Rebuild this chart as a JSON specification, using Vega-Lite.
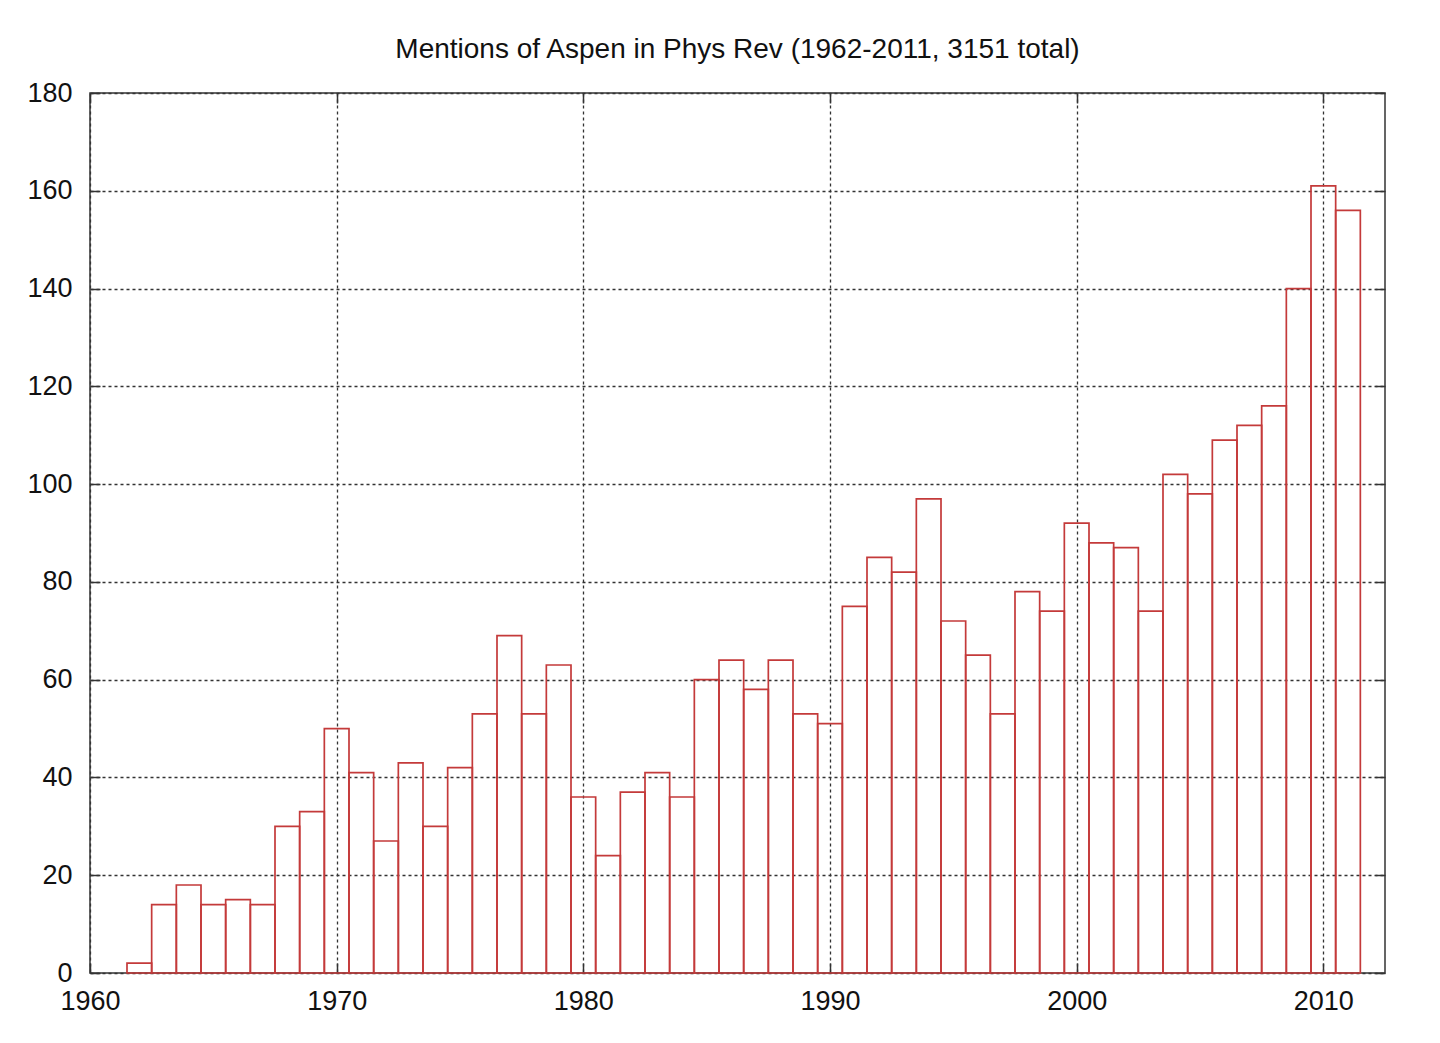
{
  "$schema": "https://vega.github.io/schema/vega-lite/v6.json",
  "width": 1295,
  "height": 880,
  "autosize": {"type": "none"},
  "padding": {"left": 90, "top": 93, "right": 55, "bottom": 70},
  "background": "white",
  "config": {
    "view": {"stroke": "#333333", "strokeWidth": 1.5},
    "font": "Liberation Sans"
  },
  "title": {
    "text": "Mentions of Aspen in Phys Rev (1962-2011, 3151 total)",
    "font": "Liberation Sans",
    "fontSize": 28,
    "fontWeight": "normal",
    "color": "#111111",
    "anchor": "middle",
    "offset": 15
  },
  "data": {
    "values": [
      {"year": 1962, "count": 2}, {"year": 1963, "count": 14}, {"year": 1964, "count": 18},
      {"year": 1965, "count": 14}, {"year": 1966, "count": 15}, {"year": 1967, "count": 14},
      {"year": 1968, "count": 30}, {"year": 1969, "count": 33}, {"year": 1970, "count": 50},
      {"year": 1971, "count": 41}, {"year": 1972, "count": 27}, {"year": 1973, "count": 43},
      {"year": 1974, "count": 30}, {"year": 1975, "count": 42}, {"year": 1976, "count": 53},
      {"year": 1977, "count": 69}, {"year": 1978, "count": 53}, {"year": 1979, "count": 63},
      {"year": 1980, "count": 36}, {"year": 1981, "count": 24}, {"year": 1982, "count": 37},
      {"year": 1983, "count": 41}, {"year": 1984, "count": 36}, {"year": 1985, "count": 60},
      {"year": 1986, "count": 64}, {"year": 1987, "count": 58}, {"year": 1988, "count": 64},
      {"year": 1989, "count": 53}, {"year": 1990, "count": 51}, {"year": 1991, "count": 75},
      {"year": 1992, "count": 85}, {"year": 1993, "count": 82}, {"year": 1994, "count": 97},
      {"year": 1995, "count": 72}, {"year": 1996, "count": 65}, {"year": 1997, "count": 53},
      {"year": 1998, "count": 78}, {"year": 1999, "count": 74}, {"year": 2000, "count": 92},
      {"year": 2001, "count": 88}, {"year": 2002, "count": 87}, {"year": 2003, "count": 74},
      {"year": 2004, "count": 102}, {"year": 2005, "count": 98}, {"year": 2006, "count": 109},
      {"year": 2007, "count": 112}, {"year": 2008, "count": 116}, {"year": 2009, "count": 140},
      {"year": 2010, "count": 161}, {"year": 2011, "count": 156}
    ]
  },
  "layer": [
    {
      "mark": {
        "type": "bar",
        "size": 24.67,
        "fill": "white",
        "fillOpacity": 0,
        "stroke": "#c43a3a",
        "strokeWidth": 1.7,
        "cornerRadius": 0
      },
      "encoding": {
        "x": {
          "field": "year",
          "type": "quantitative",
          "scale": {"domain": [1960, 2012.5], "nice": false, "zero": false, "padding": 0},
          "axis": {
            "orient": "bottom",
            "title": null,
            "values": [1960, 1970, 1980, 1990, 2000, 2010],
            "format": "d",
            "domain": false,
            "grid": true,
            "gridColor": "#333333",
            "gridDash": [3, 3],
            "gridWidth": 1.3,
            "gridOpacity": 1,
            "ticks": true,
            "tickSize": -10,
            "tickColor": "#333333",
            "tickWidth": 1.5,
            "labelFont": "Liberation Sans",
            "labelFontSize": 27,
            "labelColor": "#111111",
            "labelPadding": 25,
            "labelFlush": false
          }
        },
        "y": {
          "field": "count",
          "type": "quantitative",
          "scale": {"domain": [0, 180], "nice": false, "padding": 0},
          "axis": {
            "orient": "left",
            "title": null,
            "values": [0, 20, 40, 60, 80, 100, 120, 140, 160, 180],
            "domain": false,
            "grid": true,
            "gridColor": "#333333",
            "gridDash": [3, 3],
            "gridWidth": 1.3,
            "gridOpacity": 1,
            "ticks": true,
            "tickSize": -10,
            "tickColor": "#333333",
            "tickWidth": 1.5,
            "labelFont": "Liberation Sans",
            "labelFontSize": 27,
            "labelColor": "#111111",
            "labelPadding": 28,
            "labelFlush": false
          }
        }
      }
    },
    {
      "mark": {"type": "point", "opacity": 0},
      "encoding": {
        "x": {
          "field": "year",
          "type": "quantitative",
          "axis": {
            "orient": "top",
            "title": null,
            "values": [1960, 1970, 1980, 1990, 2000, 2010],
            "labels": false,
            "domain": false,
            "grid": false,
            "ticks": true,
            "tickSize": -10,
            "tickColor": "#333333",
            "tickWidth": 1.5
          }
        },
        "y": {
          "field": "count",
          "type": "quantitative",
          "axis": {
            "orient": "right",
            "title": null,
            "values": [0, 20, 40, 60, 80, 100, 120, 140, 160, 180],
            "labels": false,
            "domain": false,
            "grid": false,
            "ticks": true,
            "tickSize": -10,
            "tickColor": "#333333",
            "tickWidth": 1.5
          }
        }
      }
    }
  ],
  "resolve": {"axis": {"x": "independent", "y": "independent"}}
}
